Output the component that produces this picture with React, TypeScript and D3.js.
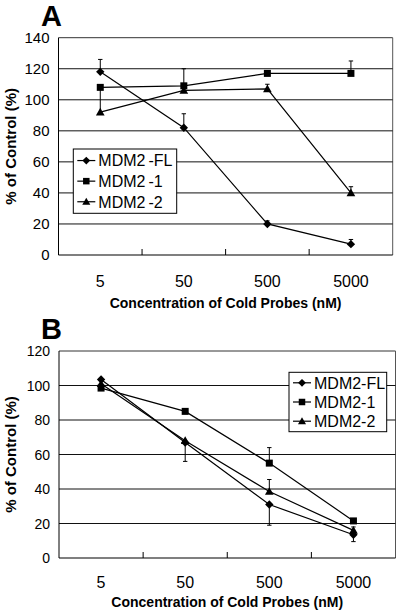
import React from 'react';
import * as d3 from 'd3';

const categories = ['5', '50', '500', '5000'];
const seriesNames = ['MDM2-FL', 'MDM2-1', 'MDM2-2'];
const markerTypes = ['diamond', 'square', 'triangle'];

// Panel A values and error bars
const aFL = [118, 82, 20, 7];
const aFLUp = [8, 9, 2, 3];
const aFLDown = [0, 0, 0, 0];
const aM1 = [108, 109, 117, 117];
const aM1Up = [0, 11, 0, 8];
const aM1Down = [0, 0, 0, 0];
const aM2 = [92, 106, 107, 40];
const aM2Up = [16, 0, 3, 4];
const aM2Down = [0, 0, 0, 0];
const aTicks = [0, 20, 40, 60, 80, 100, 120, 140];

// Panel B values and error bars
const bFL = [103.5, 67, 31, 13.5];
const bFLUp = [0, 0, 0, 0];
const bFLDown = [0, 11, 12, 4];
const bM1 = [98.5, 85, 55, 21.5];
const bM1Up = [0, 0, 9, 0];
const bM1Down = [0, 0, 0, 0];
const bM2 = [101, 68, 38.5, 16];
const bM2Up = [0, 0, 7, 2];
const bM2Down = [0, 0, 0, 0];
const bTicks = [0, 20, 40, 60, 80, 100, 120];

const xTitle = 'Concentration of Cold Probes (nM)';
const yTitle = '% of Control (%)';

type Series = { name: string; marker: string; values: number[]; up: number[]; down: number[] };

const panelASeries: Series[] = [
  { name: seriesNames[0], marker: markerTypes[0], values: aFL, up: aFLUp, down: aFLDown },
  { name: seriesNames[1], marker: markerTypes[1], values: aM1, up: aM1Up, down: aM1Down },
  { name: seriesNames[2], marker: markerTypes[2], values: aM2, up: aM2Up, down: aM2Down },
];
const panelBSeries: Series[] = [
  { name: seriesNames[0], marker: markerTypes[0], values: bFL, up: bFLUp, down: bFLDown },
  { name: seriesNames[1], marker: markerTypes[1], values: bM1, up: bM1Up, down: bM1Down },
  { name: seriesNames[2], marker: markerTypes[2], values: bM2, up: bM2Up, down: bM2Down },
];

const FONT = 'Liberation Sans, Arial, sans-serif';

function markerPath(type: string, cx: number, cy: number, s: number): string {
  if (type === 'diamond') {
    const r = s * 0.6;
    return `M${cx},${cy - r}L${cx + r},${cy}L${cx},${cy + r}L${cx - r},${cy}Z`;
  }
  if (type === 'square') {
    const r = s / 2;
    return `M${cx - r},${cy - r}H${cx + r}V${cy + r}H${cx - r}Z`;
  }
  const r = s * 0.62;
  return `M${cx},${cy - r}L${cx + r},${cy + r * 0.75}L${cx - r},${cy + r * 0.75}Z`;
}

type PanelProps = {
  letter: string;
  letterX: number;
  letterY: number;
  letterSize: number;
  left: number;
  right: number;
  top: number;
  bottom: number;
  yMax: number;
  ticks: number[];
  tickFont: number;
  xLabelY: number;
  titleY: number;
  series: Series[];
  legend: { x: number; y: number; w: number; h: number; row: number; font: number; gap: boolean };
};

function Panel(p: PanelProps) {
  const x = d3.scaleBand<string>().domain(categories).range([p.left, p.right]);
  const bw = x.bandwidth();
  const cx = (c: string) => (x(c) as number) + bw / 2;
  const y = d3.scaleLinear().domain([0, p.yMax]).range([p.bottom, p.top]);
  const line = d3
    .line<number>()
    .x((_, i) => cx(categories[i]))
    .y((d) => y(d));
  const cap = 2.2;
  const lg = p.legend;
  return (
    <g>
      <text x={p.letterX} y={p.letterY} fontFamily={FONT} fontWeight="bold" fontSize={p.letterSize}>
        {p.letter}
      </text>
      {/* border */}
      <line x1={p.left} x2={p.right} y1={p.top} y2={p.top} stroke="#333" strokeWidth={1} />
      <line x1={p.right} x2={p.right} y1={p.top} y2={p.bottom} stroke="#555" strokeWidth={1} />
      {/* gridlines */}
      {p.ticks
        .filter((t) => t > 0 && t < p.yMax)
        .map((t) => (
          <line key={t} x1={p.left} x2={p.right} y1={y(t)} y2={y(t)} stroke="#111" strokeWidth={1} />
        ))}
      {/* axes */}
      <line x1={p.left} x2={p.left} y1={p.top} y2={p.bottom} stroke="#000" strokeWidth={1} />
      <line x1={p.left} x2={p.right} y1={p.bottom} y2={p.bottom} stroke="#000" strokeWidth={1.2} />
      {categories.slice(1).map((c) => (
        <line key={c} x1={x(c)} x2={x(c)} y1={p.bottom} y2={p.bottom - 6} stroke="#000" strokeWidth={1} />
      ))}
      {/* y tick labels */}
      {p.ticks.map((t) => (
        <text
          key={t}
          x={p.left - 9}
          y={y(t)}
          dy="0.36em"
          textAnchor="end"
          fontFamily={FONT}
          fontSize={p.tickFont}
        >
          {t}
        </text>
      ))}
      {/* x tick labels */}
      {categories.map((c) => (
        <text key={c} x={cx(c)} y={p.xLabelY} textAnchor="middle" fontFamily={FONT} fontSize={16}>
          {c}
        </text>
      ))}
      <text
        x={(p.left + p.right) / 2}
        y={p.titleY}
        textAnchor="middle"
        fontFamily={FONT}
        fontWeight="bold"
        fontSize={14}
      >
        {xTitle}
      </text>
      <text
        transform={`translate(16,${(p.top + p.bottom) / 2}) rotate(-90)`}
        textAnchor="middle"
        fontFamily={FONT}
        fontWeight="bold"
        fontSize={15}
      >
        {yTitle}
      </text>
      {/* series */}
      {p.series.map((s) => (
        <g key={s.name}>
          <path d={line(s.values) || ''} fill="none" stroke="#000" strokeWidth={1.2} />
          {s.values.map((v, i) => {
            const px = cx(categories[i]);
            const els = [];
            if (s.up[i] > 0) {
              const yt = y(v + s.up[i]);
              els.push(<line key={'u' + i} x1={px} x2={px} y1={y(v)} y2={yt} stroke="#000" />);
              els.push(<line key={'uc' + i} x1={px - cap} x2={px + cap} y1={yt} y2={yt} stroke="#000" />);
            }
            if (s.down[i] > 0) {
              const yb = y(v - s.down[i]);
              els.push(<line key={'d' + i} x1={px} x2={px} y1={y(v)} y2={yb} stroke="#000" />);
              els.push(<line key={'dc' + i} x1={px - cap} x2={px + cap} y1={yb} y2={yb} stroke="#000" />);
            }
            return <g key={i}>{els}</g>;
          })}
          {s.values.map((v, i) => (
            <path key={'m' + i} d={markerPath(s.marker, cx(categories[i]), y(v), 7)} fill="#000" />
          ))}
        </g>
      ))}
      {/* legend */}
      <rect x={lg.x} y={lg.y} width={lg.w} height={lg.h} fill="#fff" stroke="#000" strokeWidth={1} />
      {p.series.map((s, i) => {
        const ry = lg.y + lg.row * (i + 0.5) + (lg.h - lg.row * 3) / 2;
        const parts = s.name.split('-');
        return (
          <g key={s.name}>
            <line x1={lg.x + 4} x2={lg.x + 22} y1={ry} y2={ry} stroke="#000" strokeWidth={1.2} />
            <path d={markerPath(s.marker, lg.x + 13, ry, 6.5)} fill="#000" />
            <text x={lg.x + 25} y={ry} dy="0.36em" fontFamily={FONT} fontSize={lg.font}>
              {lg.gap ? (
                <>
                  {parts[0]}
                  <tspan dx={3}>{'-' + parts[1]}</tspan>
                </>
              ) : (
                s.name
              )}
            </text>
          </g>
        );
      })}
    </g>
  );
}

export default function App() {
  return (
    <svg
      width={400}
      height={615}
      style={{ position: 'absolute', left: 0, top: 0, background: '#fff' }}
    >
      <rect width={400} height={615} fill="#fff" />
      <Panel
        letter="A"
        letterX={41}
        letterY={26}
        letterSize={29}
        left={58.5}
        right={392.7}
        top={37.7}
        bottom={255}
        yMax={140}
        ticks={aTicks}
        tickFont={15}
        xLabelY={287}
        titleY={308}
        series={panelASeries}
        legend={{ x: 73.3, y: 149, w: 103.4, h: 64.3, row: 20.6, font: 16, gap: true }}
      />
      <Panel
        letter="B"
        letterX={41}
        letterY={339}
        letterSize={29}
        left={59}
        right={395.5}
        top={351}
        bottom={558}
        yMax={120}
        ticks={bTicks}
        tickFont={14}
        xLabelY={588}
        titleY={607}
        series={panelBSeries}
        legend={{ x: 289, y: 372.3, w: 97.7, h: 59.4, row: 19.2, font: 16, gap: false }}
      />
    </svg>
  );
}
